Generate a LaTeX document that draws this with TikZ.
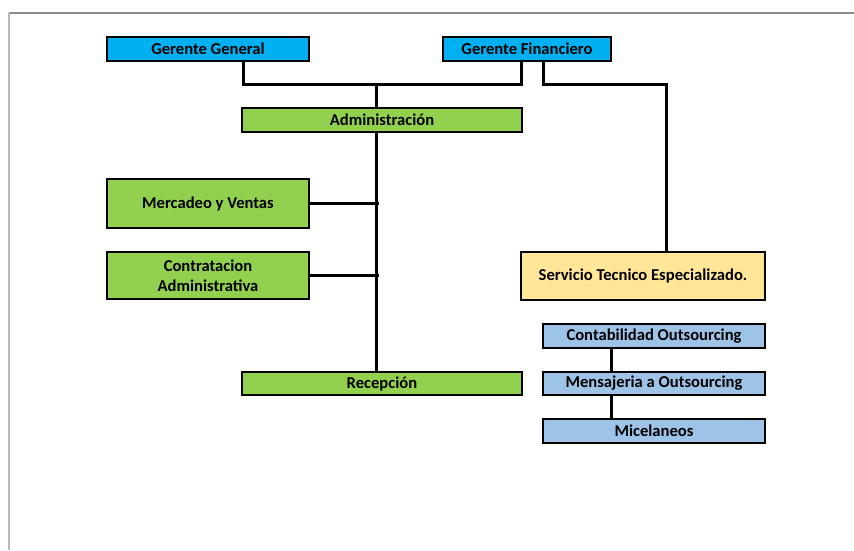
\documentclass[tikz,border=0pt]{standalone}
\usepackage{fontspec}
\setmainfont{Carlito}
\definecolor{cblue}{HTML}{00B0F0}
\definecolor{cgreen}{HTML}{92D050}
\definecolor{clblue}{HTML}{9DC3E6}
\definecolor{cyellow}{HTML}{FFE699}
\begin{document}
\begin{tikzpicture}[x=1pt,y=-1pt,
  box/.style={draw=black,line width=2.2pt,inner sep=0pt,font=\fontsize{16.6}{19}\selectfont\bfseries,align=center},
  conn/.style={draw=black,line width=3pt,line cap=rect}]
\useasboundingbox (0,0) rectangle (854,550);
\draw[gray!90,line width=1.2pt] (9,13) -- (854,13);
\draw[gray!55,line width=1.5pt] (9,13) -- (9,550);
% boxes
\node[box,fill=cblue,minimum width=202pt,minimum height=24pt] (gg) at (208,49) {Gerente General};
\node[box,fill=cblue,minimum width=168pt,minimum height=24pt] (gf) at (527,49) {Gerente Financiero};
\node[box,fill=cgreen,minimum width=280pt,minimum height=24pt] (adm) at (382,120) {Administración};
\node[box,fill=cgreen,minimum width=202pt,minimum height=49pt] (mv) at (208,203.5) {Mercadeo y Ventas};
\node[box,fill=cgreen,minimum width=202pt,minimum height=47pt] (ca) at (208,275.5) {Contratacion\\[1pt]Administrativa};
\node[box,fill=cgreen,minimum width=280pt,minimum height=23pt] (rec) at (382,383.5) {Recepción};
\node[box,fill=cyellow,minimum width=244pt,minimum height=48pt] (ste) at (643,276) {Servicio Tecnico Especializado.};
\node[box,fill=clblue,minimum width=222pt,minimum height=24pt] (cont) at (654,336) {Contabilidad Outsourcing};
\node[box,fill=clblue,minimum width=222pt,minimum height=23pt] (mens) at (654,383.5) {Mensajeria a Outsourcing};
\node[box,fill=clblue,minimum width=222pt,minimum height=24pt] (mic) at (654,431) {Micelaneos};
% junction coordinates
\coordinate (j1) at (376,84);
\coordinate (jm) at (377,203);
\coordinate (jc) at (377,275);
% connectors
\draw[conn] (gg.south -| 243,0) |- (j1) -| (gf.south -| 521,0);
\draw[conn] (gf.south -| 543,0) |- (666,84) -- (ste.north -| 666,0);
\draw[conn] (j1) -- (adm.north -| j1);
\draw[conn] (adm.south -| j1) -- (rec.north -| j1);
\draw[conn] (mv.east |- jm) -- (jm);
\draw[conn] (ca.east |- jc) -- (jc);
\draw[conn] (cont.south -| 611,0) -- (mens.north -| 611,0);
\draw[conn] (mens.south -| 611,0) -- (mic.north -| 611,0);
\end{tikzpicture}
\end{document}
